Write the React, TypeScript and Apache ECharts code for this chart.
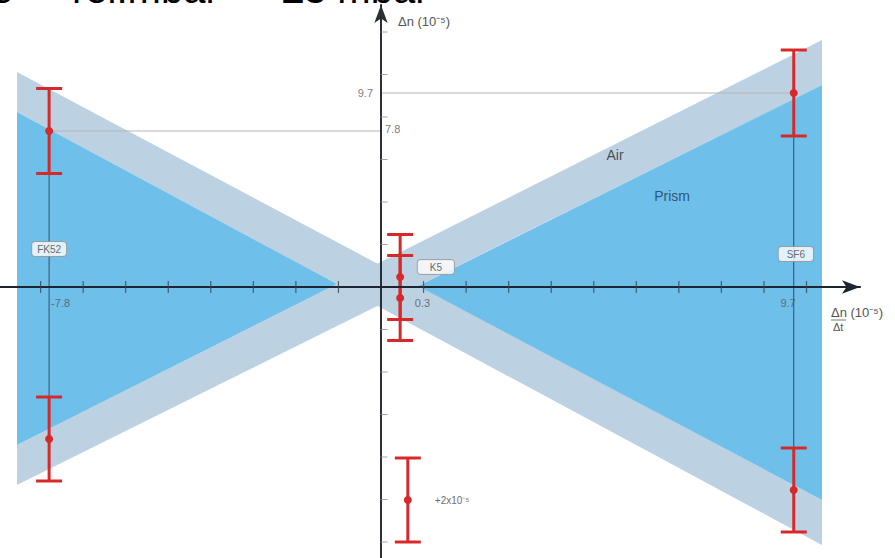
import { useEffect, useRef } from "react";
import * as echarts from "echarts";

// ---- axis extents (data units) ----
const X_MIN = -8.954;
const X_MAX = 11.257;
const Y_MIN = -13.55;
const Y_MAX = 14.1;

// ---- tick positions ----
const xTickValues = [-8, -7, -6, -5, -4, -3, -2, -1, 1, 2, 3, 4, 5, 6, 7, 8, 9, 10];
const yTickValues = [-12.75, -10.625, -8.5, -6.375, -4.25, -2.125, 2.125, 4.25, 6.375, 8.5, 10.625, 12.75];

// ---- error bars (x, centre, half-length) ----
const barX = [-7.8, -7.8, 9.7, 9.7, 0.45, 0.45, 0.63];
const barY = [7.8, -7.6, 9.7, -10.15, 0.5, -0.55, -10.65];
const barHalf = [2.125, 2.1, 2.15, 2.1, 2.125, 2.125, 2.1];

// ---- regions ----
const airBandDown = [[-8.555, 10.75], [-8.555, 8.75], [10.364, -12.9], [10.364, -10.65]];
const airBandUp = [[-8.555, -7.9], [-8.555, -9.9], [10.364, 10.1], [10.364, 12.35]];
const prismLeft = [[-8.555, 8.75], [-1.034, 0.15], [-8.555, -7.9]];
const prismRight = [[10.364, 10.1], [0.87, 0.05], [10.364, -10.65]];

const AIR = "#bcd2e2";
const PRISM = "#6ebfe9";
const RED = "#d62a2a";
const FONT = "'Liberation Sans', Arial, sans-serif";

const regions = [
  { pts: airBandDown, color: AIR },
  { pts: airBandUp, color: AIR },
  { pts: prismLeft, color: PRISM },
  { pts: prismRight, color: PRISM },
];

export default function App() {
  const ref = useRef<HTMLDivElement>(null);
  useEffect(() => {
    if (!ref.current) return;
    const chart = echarts.init(ref.current, undefined, { renderer: "svg" });

    const boxLabel = (text: string, pad: number[]) => ({
      show: true,
      position: "inside",
      formatter: text,
      fontFamily: FONT,
      fontSize: 10,
      color: "#444",
      backgroundColor: "#fff",
      borderColor: "#9a9a9a",
      borderWidth: 1,
      borderRadius: 3,
      padding: pad,
    });
    const plain = (text: string, align: string, offset: number[], size = 11, color = "#555") => ({
      show: true,
      position: "inside",
      formatter: text,
      align,
      verticalAlign: "middle",
      offset,
      fontFamily: FONT,
      fontSize: size,
      color,
    });

    const labels = [
      { value: [barX[0], 0], label: plain("-7.8", "left", [2, 16]) },
      { value: [0.3, 0], label: plain("0.3", "left", [21, 16]) },
      { value: [barX[2], 0], label: plain("9.7", "right", [2, 16]) },
      { value: [0, barY[2]], label: plain("9.7", "right", [-8, 0]) },
      { value: [0, barY[0]], label: plain("7.8", "left", [4, -2]) },
      { value: [-7.8, 1.9], label: boxLabel("FK52", [2, 5]) },
      { value: [1.29, 1.0], label: boxLabel("K5", [2, 12]) },
      { value: [9.75, 1.65], label: boxLabel("SF6", [2, 8]) },
      { value: [5.5, 6.6], label: plain("Air", "center", [0, 0], 14, "#2a2a2a") },
      { value: [6.84, 4.55], label: plain("Prism", "center", [0, 0], 14, "#1f3a55") },
      { value: [barX[6], barY[6]], label: plain("+2x10⁻⁵", "left", [27, 0], 10, "#444") },
    ];

    const guideV = [0, 2].map((i) => ({
      type: "line",
      data: [
        [barX[i], barY[i] + barHalf[i]],
        [barX[i + 1], barY[i + 1] - barHalf[i + 1]],
      ],
      symbol: "none",
      lineStyle: { color: "#2f4f6a", width: 1 },
      z: 3,
      silent: true,
    }));

    chart.setOption({
      animation: false,
      grid: { left: 0, right: 35, top: 5, bottom: 0 },
      xAxis: {
        type: "value",
        min: X_MIN,
        max: X_MAX,
        z: 10,
        axisLine: {
          onZero: true,
          symbol: ["none", "arrow"],
          symbolSize: [10, 18],
          lineStyle: { color: "#1c2530", width: 2 },
        },
        axisTick: { show: false },
        axisLabel: { show: false },
        splitLine: { show: false },
      },
      yAxis: {
        type: "value",
        min: Y_MIN,
        max: Y_MAX,
        z: 10,
        axisLine: {
          onZero: true,
          symbol: ["none", "arrow"],
          symbolSize: [10, 18],
          lineStyle: { color: "#2a2f35", width: 2 },
        },
        axisTick: { show: false },
        axisLabel: { show: false },
        splitLine: { show: false },
      },
      graphic: [
        { type: "text", left: -9, top: -31, style: { text: "e", font: `40px ${FONT}`, fill: "#000" } },
        { type: "text", left: 72, top: -31, style: { text: "rel.mbar", font: `40px ${FONT}`, fill: "#000" } },
        { type: "text", left: 282, top: -31, style: { text: "±3 mbar", font: `40px ${FONT}`, fill: "#000" } },
        { type: "text", left: 398, top: 15, style: { text: "Δn (10⁻⁵)", font: `13px ${FONT}`, fill: "#555" } },
        { type: "text", left: 831, top: 306, style: { text: "Δn (10⁻⁵)", font: `13px ${FONT}`, fill: "#555" } },
        { type: "text", left: 833, top: 321, style: { text: "Δt", font: `11px ${FONT}`, fill: "#555" } },
        { type: "line", shape: { x1: 831, y1: 320, x2: 846, y2: 320 }, style: { stroke: "#777", lineWidth: 1 } },
      ],
      series: [
        {
          type: "custom",
          silent: true,
          z: 1,
          data: regions.map((r, i) => [r.pts[0][0], r.pts[0][1], i]),
          renderItem: (params: any, api: any) => {
            const r = regions[params.dataIndex];
            return {
              type: "polygon",
              shape: { points: r.pts.map((p) => api.coord(p)) },
              style: { fill: r.color },
            };
          },
        },
        {
          type: "line",
          data: [
            [barX[0], barY[0]],
            [0, barY[0]],
          ],
          symbol: "none",
          lineStyle: { color: "#b5b5b5", width: 1 },
          z: 3,
          silent: true,
        },
        {
          type: "line",
          data: [
            [0, barY[2]],
            [barX[2], barY[2]],
          ],
          symbol: "none",
          lineStyle: { color: "#b5b5b5", width: 1 },
          z: 3,
          silent: true,
        },
        ...guideV,
        {
          type: "scatter",
          silent: true,
          z: 11,
          symbol: "rect",
          symbolSize: [1.2, 12],
          itemStyle: { color: "#3a4450" },
          data: xTickValues.map((v) => [v, 0]),
        },
        {
          type: "scatter",
          silent: true,
          z: 11,
          symbol: "rect",
          symbolSize: [7, 1],
          symbolOffset: [3, 0],
          itemStyle: { color: "#8a8f95" },
          data: yTickValues.map((v) => [0, v]),
        },
        {
          type: "custom",
          silent: true,
          z: 5,
          data: barX.map((x, i) => [x, barY[i], barHalf[i]]),
          renderItem: (_params: any, api: any) => {
            const x = api.value(0);
            const y = api.value(1);
            const h = api.value(2);
            const top = api.coord([x, y + h]);
            const bot = api.coord([x, y - h]);
            const mid = api.coord([x, y]);
            const cap = 13;
            const style = { stroke: RED, lineWidth: 3 };
            return {
              type: "group",
              children: [
                { type: "line", shape: { x1: top[0], y1: top[1], x2: bot[0], y2: bot[1] }, style },
                { type: "line", shape: { x1: top[0] - cap, y1: top[1], x2: top[0] + cap, y2: top[1] }, style },
                { type: "line", shape: { x1: bot[0] - cap, y1: bot[1], x2: bot[0] + cap, y2: bot[1] }, style },
                { type: "circle", shape: { cx: mid[0], cy: mid[1], r: 4 }, style: { fill: RED } },
              ],
            };
          },
        },
        {
          type: "scatter",
          silent: true,
          z: 12,
          symbolSize: 1,
          itemStyle: { color: "transparent" },
          data: labels,
        },
      ],
    });
    return () => chart.dispose();
  }, []);
  return (
    <div
      ref={ref}
      style={{ position: "fixed", left: 0, top: 0, width: 895, height: 558, background: "#fff" }}
    />
  );
}
